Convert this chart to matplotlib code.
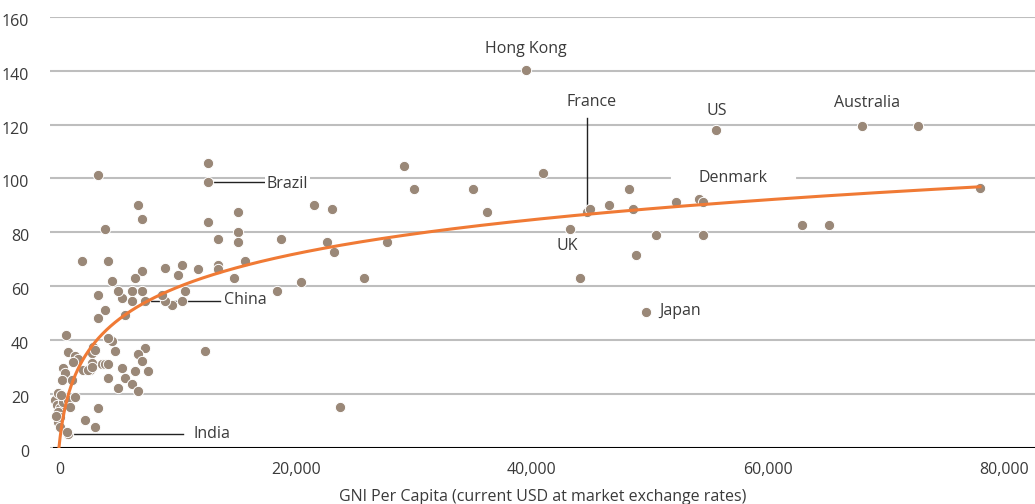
import numpy as np
import matplotlib
matplotlib.use("Agg")
import matplotlib.pyplot as plt
from matplotlib.transforms import ScaledTranslation

plt.rcParams['font.family'] = ['Open Sans', 'DejaVu Sans']

# GNI per capita (USD) and index value
gni = [
    40000, 56100, 68450, 73220, 78480, 63420, 65660, 45150, 45430, 43730,
    44580, 47060, 48760, 49040, 49320, 51020, 50170, 52710, 54690, 54980,
    54980, 29660, 30510, 35540, 41470, 36670, 23540, 22040, 23160, 23730,
    28250, 26270, 24240, 19240, 18920, 20930, 13080, 13080, 13080, 15570,
    15570, 15570, 13920, 13920, 13920, 16190, 15280, 12230, 10820, 10530,
    9410, 7430, 6860, 4890, 4600, 2350, 4350, 7140, 7430, 3750,
    11100, 10820, 9980, 9410, 9130, 7710, 7430, 6590, 6590, 5740,
    5450, 3750, 4320, 3750, 6020, 12800,
    7710, 7140, 7430, 7990, 6860, 5740, 6020, 6580, 7140, 5450,
    4600, 5170, 4890, 4600, 4030, 4320, 4600, 3330, 3190, 3470,
    3190, 3050, 3750,
    85, 230, 510, 360, 790, 1210, 1780, 1360, 510, 360,
    510, 1210, 1080, 2630, 3470,
    990, 1210, 1780, 2060, 1640, 790, 930, 650, 1500, 2480,
    2910, 3190, 300, 150, 600,
]
index_value = [
    140.3, 118.1, 119.5, 119.5, 96.3, 82.6, 82.6, 87.5, 88.8, 81.4,
    63.0, 90.0, 96.2, 88.8, 71.5, 78.9, 50.6, 91.2, 92.5, 91.2,
    78.9, 104.7, 96.0, 96.0, 102.2, 87.5, 88.8, 90.0, 76.4, 72.7,
    76.4, 63.0, 15.2, 77.7, 58.1, 61.6, 98.5, 105.7, 83.8, 87.5,
    80.1, 76.4, 77.7, 67.8, 66.5, 69.4, 62.9, 66.5, 68.0, 64.1,
    66.8, 65.6, 63.1, 61.9, 69.3, 69.3, 81.4, 90.0, 85.1, 101.1,
    58.1, 54.4, 53.2, 54.4, 56.9, 54.4, 58.1, 58.1, 54.4, 55.7,
    58.1, 56.9, 51.1, 48.3, 49.5, 35.9,
    37.1, 34.7, 32.2, 28.5, 28.5, 29.7, 26.0, 23.6, 21.1, 22.3,
    26.0, 35.9, 39.6, 40.9, 31.0, 31.0, 31.0, 37.5, 35.1, 36.3,
    31.4, 28.9, 14.9,
    17.8, 15.9, 14.7, 13.4, 17.1, 17.8, 18.8, 15.1, 11.6, 9.7,
    7.9, 5.2, 5.8, 10.4, 7.7,
    42.1, 35.7, 34.1, 32.9, 32.0, 29.5, 27.7, 25.2, 25.2, 28.9,
    28.9, 30.1, 20.5, 12.0, 19.5,
]

# logarithmic trendline shown on the chart (y = slope * ln(x) + intercept)
trend_slope = 18.5
trend_intercept = -111.6

x_ticks = [0, 20000, 40000, 60000, 80000]
x_tick_labels = ["0", "20,000", "40,000", "60,000", "80,000"]
y_ticks = [0, 20, 40, 60, 80, 100, 120, 140, 160]
x_title = "GNI Per Capita (current USD at market exchange rates)"

# labelled countries: name -> (point x, point y)
labels = {
    "Hong Kong": (40000, 140.3),
    "US": (56100, 118.1),
    "Australia": (68450, 119.5),
    "France": (45150, 87.5),
    "Denmark": (54980, 91.2),
    "UK": (43730, 81.4),
    "Japan": (50170, 50.6),
    "Brazil": (13080, 98.5),
    "China": (7710, 54.4),
    "India": (1210, 5.2),
}

DOT = "#9A8878"
ORANGE = "#F07A35"
GRID = "#BEBEBE"
TXT = "#3A3A3A"

fig = plt.figure(figsize=(10.35, 5.04), dpi=100)
ax = fig.add_axes([50/1035, 56/504, 985/1035, (448-16.7)/504])
ax.set_xlim(-340, 83140)
ax.set_ylim(0, 160)

for s in ax.spines.values():
    s.set_visible(False)
ax.set_yticks(y_ticks)
ax.yaxis.grid(True, color=GRID, linewidth=1.5)
ax.set_axisbelow(True)
ax.axhline(0, xmin=(0 + 340) / 83480, xmax=1, color="black", linewidth=2.2, zorder=1)

fs = 11.5
ax.tick_params(axis="both", length=0, labelsize=fs, labelcolor=TXT)
ax.tick_params(axis="y", pad=15)
ax.tick_params(axis="x", pad=10)
ax.set_xticks(x_ticks)
ax.set_xticklabels(x_tick_labels)
ax.set_yticklabels([str(v) for v in y_ticks])
for lab in ax.get_yticklabels():
    lab.set_horizontalalignment("right")
    lab.set_transform(lab.get_transform() + ScaledTranslation(0, -3/100, fig.dpi_scale_trans))
for lab in ax.get_xticklabels():
    lab.set_transform(lab.get_transform() + ScaledTranslation(6/100, 0, fig.dpi_scale_trans))
ax.set_xlabel(x_title, fontsize=fs, color=TXT, labelpad=8)

ax.scatter(gni, index_value, s=55, color=DOT, edgecolor="white", linewidth=0.7, zorder=3)

# trendline
x_start = np.exp(-trend_intercept / trend_slope)
xs = np.geomspace(x_start, max(gni), 400)
ax.plot(xs, trend_slope * np.log(xs) + trend_intercept, color=ORANGE, linewidth=2.2, zorder=4)

lc = "#222222"
hk = labels["Hong Kong"]
ax.text(hk[0], 148.1, "Hong Kong", ha="center", va="center", fontsize=fs, color=TXT)
ax.text(56190, 125.2, "US", ha="center", va="center", fontsize=fs, color=TXT)
ax.text(68900, 127.8, "Australia", ha="center", va="center", fontsize=fs, color=TXT)
fr = labels["France"]
ax.plot([fr[0], fr[0]], [fr[1], 122.6], color=lc, linewidth=1, zorder=2)
ax.text(45580, 128.5, "France", ha="center", va="center", fontsize=fs, color=TXT)
ax.plot([52460, 62720], [100, 100], color="white", linewidth=3, zorder=1.5)
ax.text(57540, 100, "Denmark", ha="center", va="center", fontsize=fs, color=TXT, zorder=2)
ax.text(43480, 74.8, "UK", ha="center", va="center", fontsize=fs, color=TXT)
ax.text(51270, 50.7, "Japan", ha="left", va="center", fontsize=fs, color=TXT)
br = labels["Brazil"]
ax.plot([br[0], 17880], [br[1], br[1]], color=lc, linewidth=1, zorder=2)
ax.text(18050, 97.8, "Brazil", ha="left", va="center", fontsize=fs, color=TXT, zorder=2,
        bbox=dict(boxstyle="square,pad=0.1", fc="white", ec="none"))
ch = labels["China"]
ax.plot([ch[0], 14070], [ch[1], ch[1]], color=lc, linewidth=1, zorder=2)
ax.text(14410, 54.8, "China", ha="left", va="center", fontsize=fs, color=TXT)
ind = labels["India"]
ax.plot([ind[0], 10930], [ind[1], ind[1]], color=lc, linewidth=1, zorder=2)
ax.text(11780, 5.2, "India", ha="left", va="center", fontsize=fs, color=TXT)

fig.savefig("out.png", dpi=100)
